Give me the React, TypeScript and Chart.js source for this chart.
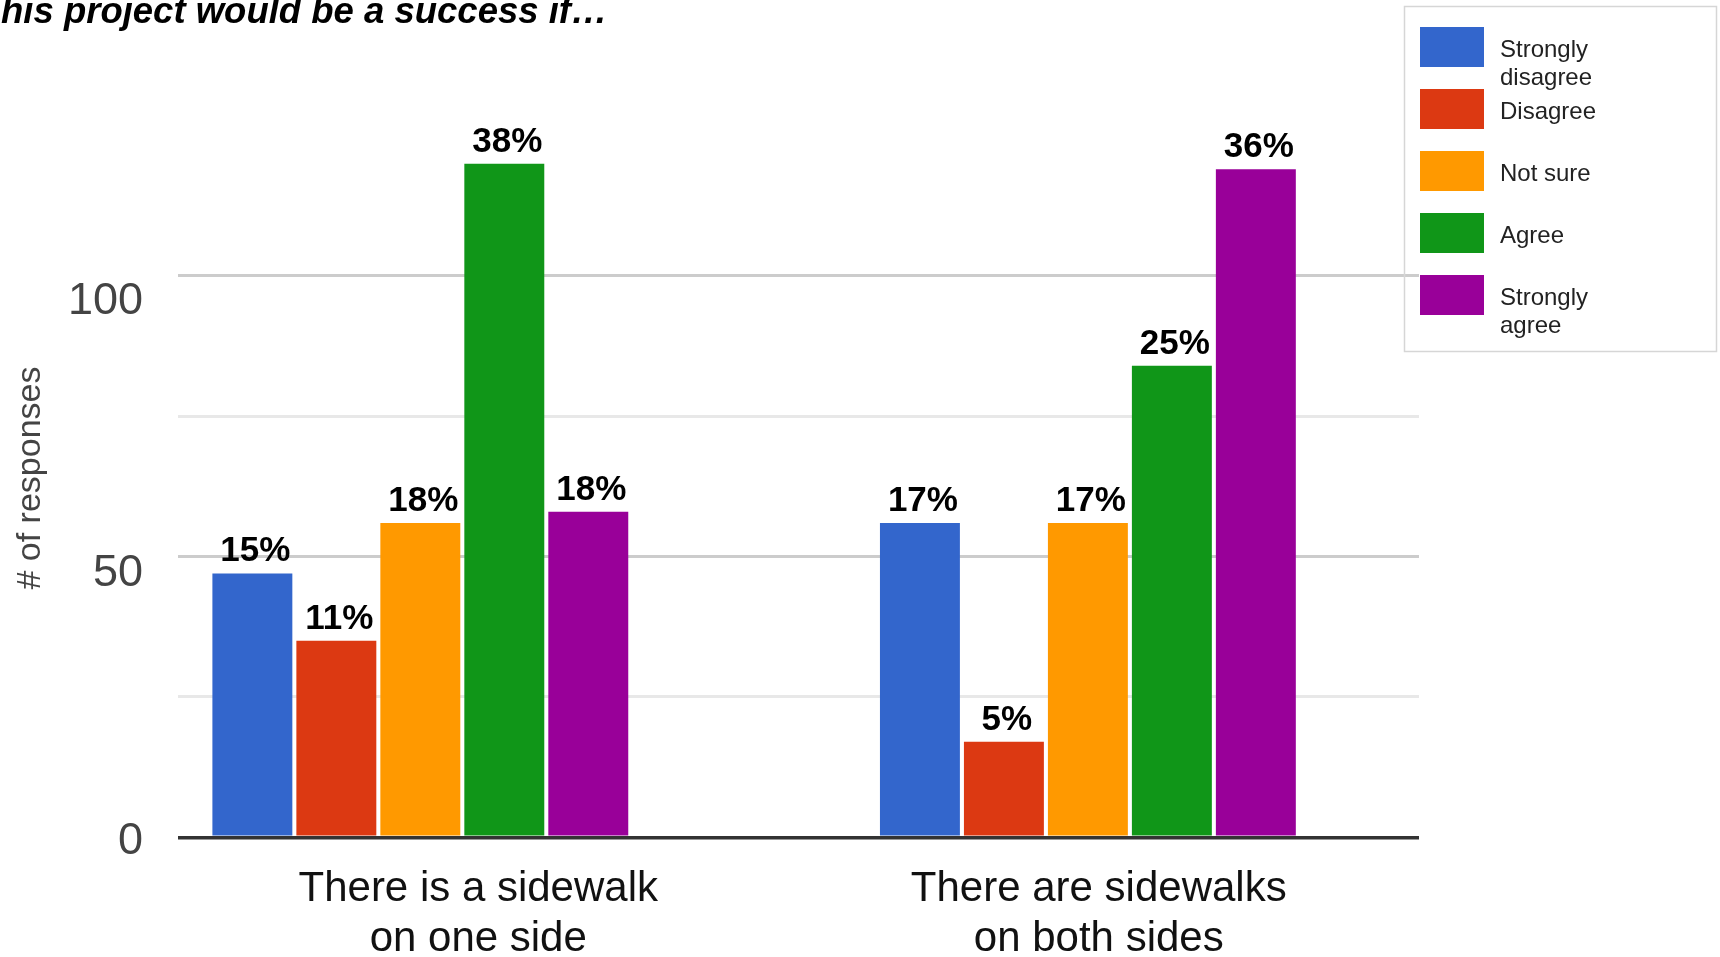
import React, { useEffect, useRef } from 'react';
import { Chart, registerables } from 'chart.js';

Chart.register(...registerables);

// ---------- data ----------
const titleText = 'his project would be a success if…';
const categories = [
  ['There is a sidewalk', 'on one side'],
  ['There are sidewalks', 'on both sides'],
];
const seriesNames = ['Strongly disagree', 'Disagree', 'Not sure', 'Agree', 'Strongly agree'];
const seriesColors = ['#3366cc', '#dc3912', '#ff9900', '#109618', '#990099'];

const stronglyDisagree = [47, 56];
const disagree = [35, 17];
const notSure = [56, 56];
const agree = [120, 84];
const stronglyAgree = [58, 119];

const stronglyDisagreePct = ['15%', '17%'];
const disagreePct = ['11%', '5%'];
const notSurePct = ['18%', '17%'];
const agreePct = ['38%', '25%'];
const stronglyAgreePct = ['18%', '36%'];

const yTicks = [0, 25, 50, 75, 100];
const yTickLabels = ['0', '', '50', '', '100'];
const yTitle = '# of responses';

// ---------- styling ----------
const FONT = '"Liberation Sans", Arial, Helvetica, sans-serif';
const W = 1720;
const H = 957;

const seriesValues = [stronglyDisagree, disagree, notSure, agree, stronglyAgree];
const seriesPct = [stronglyDisagreePct, disagreePct, notSurePct, agreePct, stronglyAgreePct];

// vertical drop of the y tick labels below their grid line (reference quirk)
const yLabelDrop: Record<number, number> = { 0: 8, 50: 33, 100: 51 };

function wrapWords(ctx: CanvasRenderingContext2D, text: string, maxWidth: number): string[] {
  const words = text.split(' ');
  const lines: string[] = [];
  let cur = '';
  for (const w of words) {
    const test = cur ? cur + ' ' + w : w;
    if (cur && ctx.measureText(test).width > maxWidth) {
      lines.push(cur);
      cur = w;
    } else {
      cur = test;
    }
  }
  if (cur) lines.push(cur);
  return lines;
}

const overlayPlugin = {
  id: 'overlay',
  afterDatasetsDraw(chart: any) {
    const ctx: CanvasRenderingContext2D = chart.ctx;
    ctx.save();
    ctx.font = `bold 35px ${FONT}`;
    ctx.fillStyle = '#000';
    ctx.textAlign = 'center';
    ctx.textBaseline = 'alphabetic';
    chart.data.datasets.forEach((_ds: any, i: number) => {
      const meta = chart.getDatasetMeta(i);
      meta.data.forEach((el: any, j: number) => {
        ctx.fillText(seriesPct[i][j], el.x + 3, el.y - 12);
      });
    });
    ctx.restore();
  },
  afterDraw(chart: any) {
    const ctx: CanvasRenderingContext2D = chart.ctx;
    ctx.save();
    // title (cut off at the left/top as in the reference)
    ctx.font = `italic bold 36.5px ${FONT}`;
    ctx.fillStyle = '#000';
    ctx.textAlign = 'left';
    ctx.textBaseline = 'alphabetic';
    ctx.fillText(titleText, 1, 23);

    // legend
    const boxX = 1404.5;
    const boxY = 6.5;
    const boxW = 312;
    const boxH = 345;
    ctx.strokeStyle = '#d6d6d6';
    ctx.lineWidth = 1.5;
    ctx.strokeRect(boxX, boxY, boxW, boxH);

    ctx.font = `24px ${FONT}`;
    chart.data.datasets.forEach((ds: any, i: number) => {
      const top = 27 + i * 62;
      ctx.fillStyle = ds.backgroundColor;
      ctx.fillRect(1420, top, 64, 40);
      ctx.fillStyle = '#222';
      const lines = wrapWords(ctx, ds.label, 110);
      lines.forEach((ln, k) => {
        ctx.fillText(ln, 1500, top + 30 + k * 28);
      });
    });
    ctx.restore();
  },
};

export default function App() {
  const canvasRef = useRef<HTMLCanvasElement | null>(null);

  useEffect(() => {
    const canvas = canvasRef.current;
    if (!canvas) return;

    const chart = new Chart(canvas, {
      type: 'bar',
      data: {
        labels: categories as any,
        datasets: seriesNames.map((name, i) => ({
          label: name,
          data: seriesValues[i].map((v, j) => ({ x: j, y: v })),
          backgroundColor: seriesColors[i],
          borderWidth: 0,
          xAxisID: 'xb',
          yAxisID: 'y',
          categoryPercentage: 0.629,
          barPercentage: 0.952,
        })),
      },
      options: {
        responsive: false,
        animation: false,
        devicePixelRatio: 1,
        layout: { padding: { left: 0, right: 301, top: 118.8, bottom: 0 } },
        plugins: {
          legend: { display: false },
          title: { display: false },
          tooltip: { enabled: false },
        },
        scales: {
          x: {
            type: 'category',
            position: 'bottom',
            offset: true,
            grid: { display: false },
            border: { display: false },
            ticks: {
              font: { size: 42, family: FONT, lineHeight: 1.17 },
              color: '#111',
              padding: 20,
              maxRotation: 0,
              minRotation: 0,
              autoSkip: false,
              labelOffset: -10,
            },
            afterFit: (s: any) => {
              s.height = 119.7;
            },
          },
          xb: {
            type: 'linear',
            display: false,
            offset: false,
            grid: { offset: false },
            min: -0.363,
            max: 1.496,
            afterBuildTicks: (s: any) => {
              s.ticks = [{ value: 0 }, { value: 1 }];
            },
          },
          y: {
            type: 'linear',
            position: 'left',
            min: 0,
            max: 128,
            afterBuildTicks: (s: any) => {
              s.ticks = yTicks.map((v) => ({ value: v }));
            },
            grid: {
              drawTicks: false,
              lineWidth: (c: any) => (c.tick && c.tick.value === 0 ? 3.5 : 3),
              color: (c: any) => {
                const v = c.tick ? c.tick.value : -1;
                if (v === 0) return '#333333';
                if (v % 50 === 0) return '#cccccc';
                return '#e8e8e8';
              },
            },
            border: { display: false },
            ticks: {
              callback: (value: any) => {
                const v = Number(value);
                const idx = yTicks.indexOf(v);
                const txt = idx >= 0 ? yTickLabels[idx] : '';
                if (!txt) return '';
                return yLabelDrop[v] ? ['', txt] : txt;
              },
              font: (c: any) => {
                const v = c.tick ? c.tick.value : 0;
                const drop = yLabelDrop[v] || 0;
                return { size: 45, family: FONT, lineHeight: drop ? drop + 'px' : 1.2 };
              },
              color: '#444',
              padding: 35,
            },
            title: {
              display: true,
              text: yTitle,
              font: { size: 34, family: FONT },
              color: '#444',
              padding: { top: 10, bottom: 0 },
            },
            afterFit: (s: any) => {
              s.width = 178;
            },
          },
        },
      } as any,
      plugins: [overlayPlugin as any],
    });

    return () => {
      chart.destroy();
    };
  }, []);

  return (
    <div style={{ position: 'fixed', left: 0, top: 0, width: W, height: H, background: '#fff' }}>
      <canvas ref={canvasRef} width={W} height={H} style={{ display: 'block' }} />
    </div>
  );
}
